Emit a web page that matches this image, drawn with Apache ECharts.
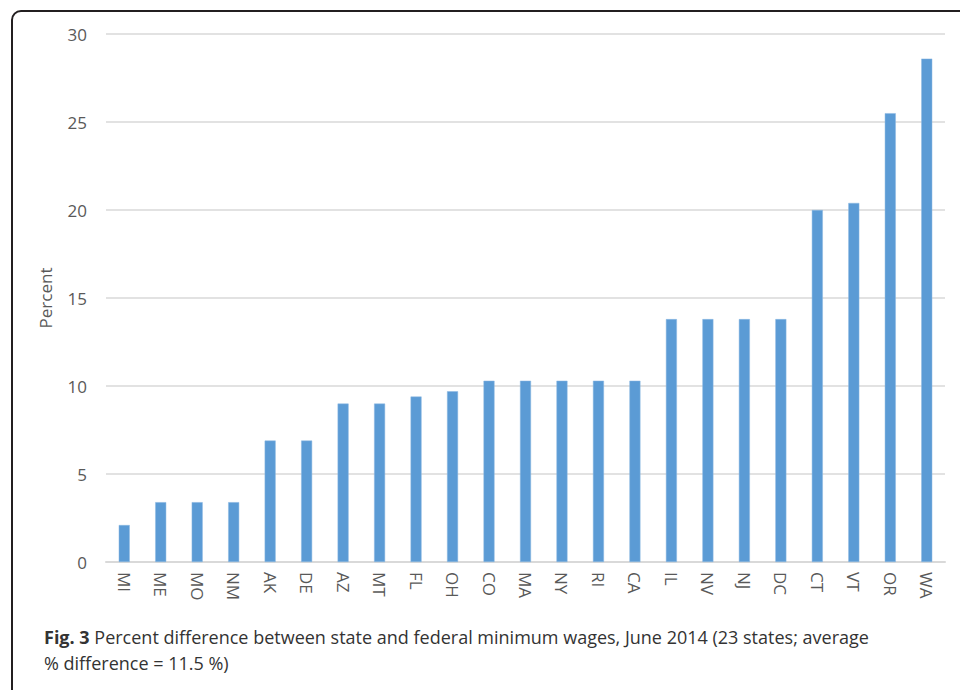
<!DOCTYPE html>
<html>
<head>
    <meta charset="utf-8">
    <script src="https://cdn.jsdelivr.net/npm/echarts@6/dist/echarts.min.js"></script>
    <style>
        html, body { margin: 0; height: 100%; background: #fff; overflow: hidden; }
        #frame {
            position: absolute; left: 11px; top: 10px; width: 1000px; height: 760px;
            border: 2px solid #231f20; border-radius: 10px; box-sizing: border-box;
        }
        #chart { position: absolute; left: 0; top: 0; width: 960px; height: 690px; }
    </style>
</head>
<body>
    <div id="frame"></div>
    <div id="chart"></div>
    <script type="text/javascript">
        var states = ['MI', 'ME', 'MO', 'NM', 'AK', 'DE', 'AZ', 'MT', 'FL', 'OH', 'CO', 'MA',
            'NY', 'RI', 'CA', 'IL', 'NV', 'NJ', 'DC', 'CT', 'VT', 'OR', 'WA'];
        var percentDiff = [2.1, 3.4, 3.4, 3.4, 6.9, 6.9, 9.0, 9.0, 9.4, 9.7, 10.3, 10.3,
            10.3, 10.3, 10.3, 13.8, 13.8, 13.8, 13.8, 20.0, 20.4, 25.5, 28.6];

        var font = '"Open Sans", "Noto Sans", sans-serif';
        var myChart = echarts.init(document.getElementById('chart'), null, { renderer: 'svg' });
        myChart.setOption({
            animation: false,
            textStyle: { fontFamily: font },
            title: {
                left: 39,
                top: 619,
                text: '{b|Fig. 3} Percent difference between state and federal minimum wages, June 2014 (23 states; average\n% difference = 11.5 %)',
                textStyle: {
                    fontFamily: font,
                    fontSize: 18,
                    fontWeight: 'normal',
                    color: '#333',
                    lineHeight: 26,
                    rich: {
                        b: { fontFamily: font, fontSize: 18, fontWeight: 'bold', color: '#333' }
                    }
                }
            },
            grid: { left: 106, right: 15, top: 34, bottom: 128, containLabel: false },
            xAxis: {
                type: 'category',
                data: states,
                axisLine: { lineStyle: { color: '#d9d9d9', width: 2 } },
                axisTick: { show: false },
                axisLabel: { rotate: -90, color: '#595959', fontSize: 17, margin: 10 }
            },
            yAxis: {
                type: 'value',
                min: 0,
                max: 30,
                interval: 5,
                name: 'Percent',
                nameLocation: 'middle',
                nameGap: 52,
                nameTextStyle: { color: '#595959', fontSize: 17 },
                axisLine: { show: false },
                axisTick: { show: false },
                axisLabel: { color: '#595959', fontSize: 17, margin: 19 },
                splitLine: { lineStyle: { color: '#d9d9d9', width: 1.5 } }
            },
            series: [{
                type: 'bar',
                data: percentDiff,
                barWidth: 11,
                itemStyle: { color: '#5b9bd5', borderColor: '#8db8e3', borderWidth: 0.5 }
            }]
        });
    </script>
</body>
</html>
